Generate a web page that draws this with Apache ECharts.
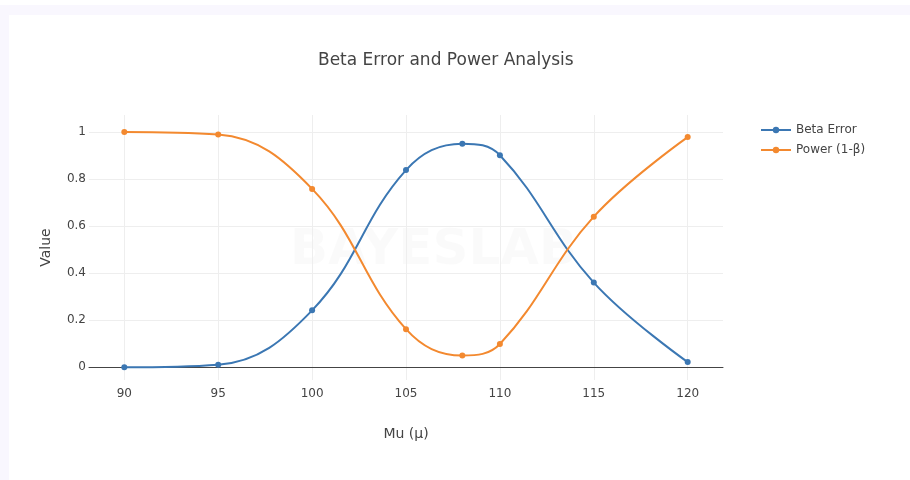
<!DOCTYPE html>
<html lang="en">

<head>
  <meta charset="UTF-8">
  <title>Beta Error and Power Analysis</title>
  <script src="https://cdn.jsdelivr.net/npm/echarts@6/dist/echarts.min.js"></script>
  <style>
    body {
      margin: 0;
      padding: 0;
      background: #fff;
    }

    #frame {
      position: absolute;
      left: 0;
      top: 5px;
      width: 910px;
      height: 475px;
      background: #f9f7fe;
    }

    #card {
      position: absolute;
      left: 9px;
      top: 15px;
      width: 901px;
      height: 465px;
      background: #fff;
    }

    #chart {
      position: absolute;
      left: 0;
      top: 0;
      width: 910px;
      height: 480px;
    }
  </style>
</head>

<body>
  <div id="frame"></div>
  <div id="card"></div>
  <div id="chart"></div>

  <script>
    // mu values on the x axis
    const muValues = [90, 95, 100, 105, 108, 110, 115, 120];
    // beta error
    const betaError = [0.000, 0.011, 0.242, 0.838, 0.950, 0.901, 0.360, 0.022];
    // power (1 - beta)
    const power = [1.000, 0.989, 0.758, 0.162, 0.050, 0.099, 0.640, 0.978];

    const blue = '#3b77b3';
    const orange = '#f3892f';
    const font = '"DejaVu Sans", "Open Sans", sans-serif';

    const chart = echarts.init(document.getElementById('chart'));

    const option = {
      backgroundColor: 'transparent',
      textStyle: { fontFamily: font },
      title: {
        text: 'Beta Error and Power Analysis',
        left: 313,
        top: 47,
        textStyle: { fontSize: 17, fontWeight: 'normal', color: '#444', fontFamily: font }
      },
      legend: {
        orient: 'vertical',
        left: 755,
        top: 119,
        itemWidth: 30,
        itemHeight: 8,
        itemGap: 8,
        textStyle: { fontSize: 12, color: '#444', fontFamily: font },
        data: ['Beta Error', 'Power (1-β)']
      },
      graphic: [{
        type: 'text',
        left: 290,
        top: 226,
        silent: true,
        style: {
          text: 'BAYESLAB',
          fontSize: 50,
          fontWeight: 'bold',
          fontFamily: font,
          fill: 'rgba(0,0,0,0.018)'
        }
      }],
      grid: {
        left: 89,
        right: 187,
        top: 115,
        bottom: 100
      },
      xAxis: {
        type: 'value',
        min: 88.12,
        max: 121.88,
        name: 'Mu (μ)',
        nameLocation: 'middle',
        nameGap: 47,
        nameTextStyle: { fontSize: 14, color: '#444' },
        axisLine: { show: true, onZero: true, lineStyle: { color: '#444', width: 1 } },
        axisTick: { show: false },
        axisLabel: {
          margin: 8,
          fontSize: 12,
          color: '#444',
          showMinLabel: false,
          showMaxLabel: false
        },
        splitLine: {
          show: true,
          showMinLine: false,
          showMaxLine: false,
          lineStyle: { color: '#eee', width: 1 }
        }
      },
      yAxis: {
        type: 'value',
        min: -0.054,
        max: 1.072,
        name: 'Value',
        nameLocation: 'middle',
        nameGap: 36,
        nameTextStyle: { fontSize: 14, color: '#444' },
        axisLine: { show: false },
        axisTick: { show: false },
        axisLabel: {
          margin: 3,
          fontSize: 12,
          color: '#444',
          showMinLabel: false,
          showMaxLabel: false,
          formatter: v => (Math.abs(v) < 1e-9 ? '0' : String(+v.toFixed(1)))
        },
        splitLine: {
          show: true,
          showMinLine: false,
          showMaxLine: false,
          lineStyle: { color: '#eee', width: 1 }
        }
      },
      series: [
        {
          name: 'Beta Error',
          type: 'line',
          smooth: 0.4,
          symbol: 'circle',
          symbolSize: 6,
          color: blue,
          lineStyle: { width: 2, color: blue },
          itemStyle: { color: blue },
          data: muValues.map((m, i) => [m, betaError[i]])
        },
        {
          name: 'Power (1-β)',
          type: 'line',
          smooth: 0.4,
          symbol: 'circle',
          symbolSize: 6,
          color: orange,
          lineStyle: { width: 2, color: orange },
          itemStyle: { color: orange },
          data: muValues.map((m, i) => [m, power[i]])
        }
      ]
    };

    chart.setOption(option);
  </script>

</body>

</html>
